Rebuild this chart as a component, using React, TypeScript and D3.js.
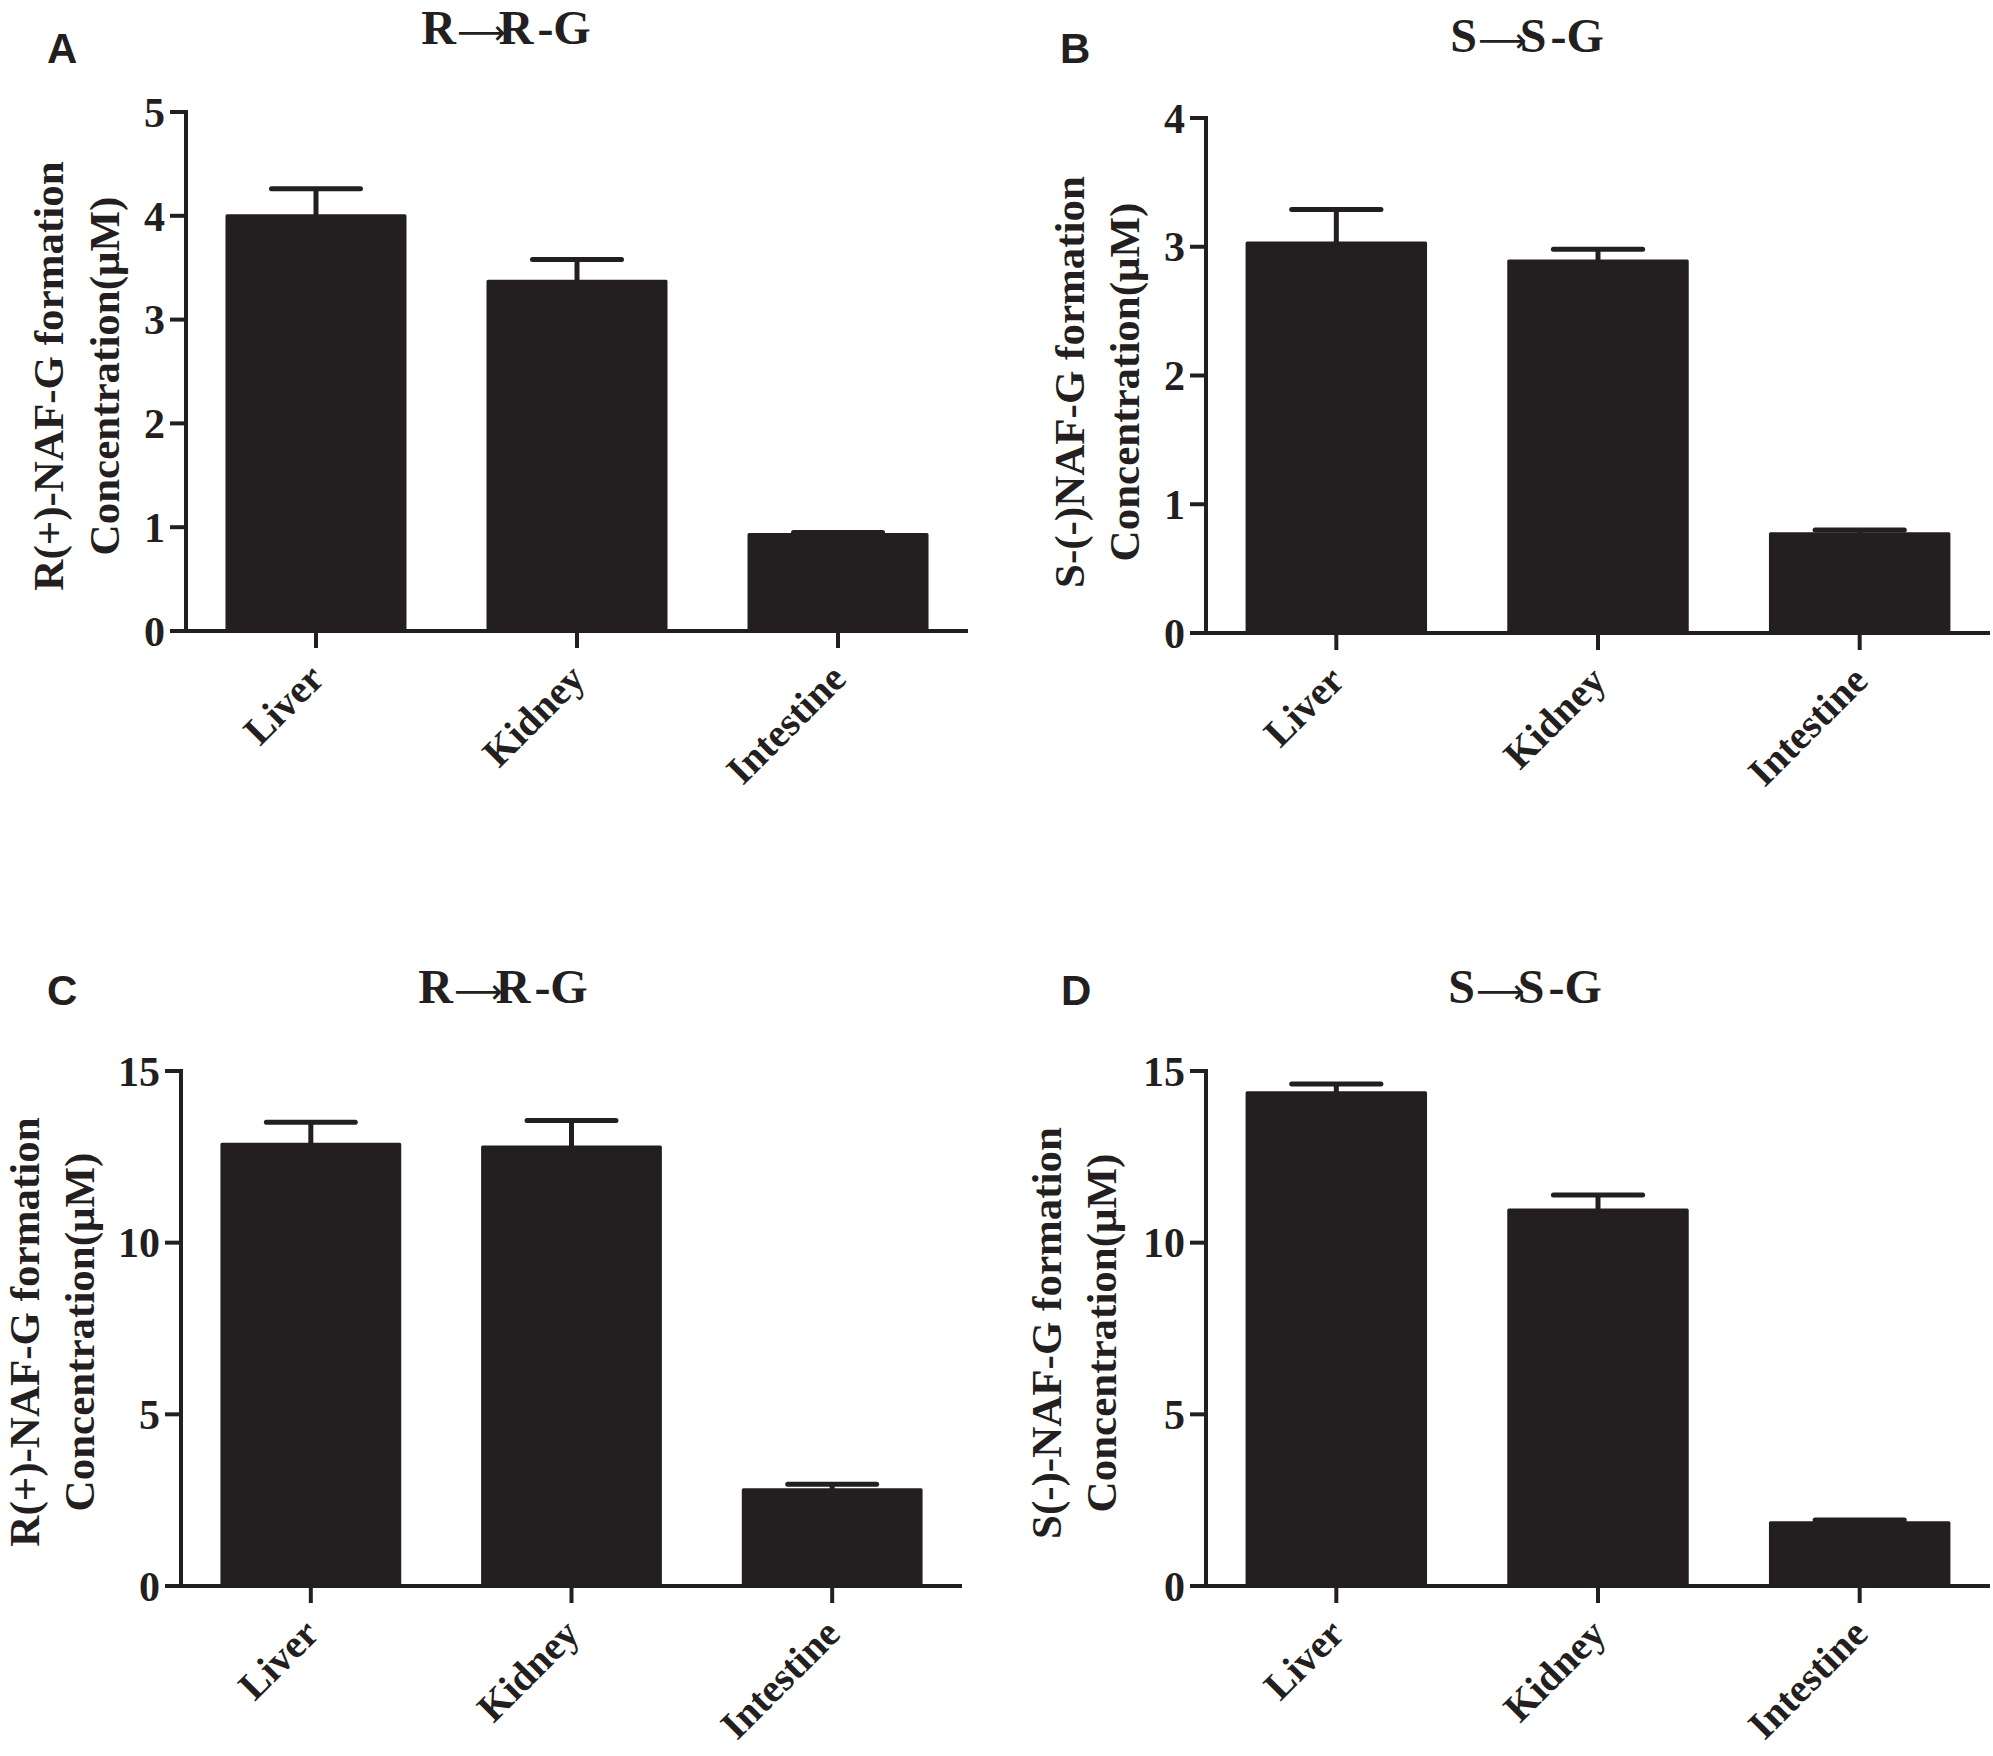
import React from "react";
import * as d3 from "d3";

const categories = ["Liver", "Kidney", "Intestine"];

const meanA = [4.0, 3.37, 0.93];
const errA = [0.26, 0.21, 0.02];
const meanB = [3.03, 2.89, 0.77];
const errB = [0.26, 0.09, 0.03];
const meanC = [12.87, 12.79, 2.8];
const errC = [0.64, 0.77, 0.16];
const meanD = [14.37, 10.95, 1.84];
const errD = [0.25, 0.44, 0.08];

const ticksA = [0, 1, 2, 3, 4, 5];
const ticksB = [0, 1, 2, 3, 4];
const ticksC = [0, 5, 10, 15];
const ticksD = [0, 5, 10, 15];

const titleR = ["R", "R", "-G"];
const titleS = ["S", "S", "-G"];

const yLabelA = ["R(+)-NAF-G formation", "Concentration(μM)"];
const yLabelB = ["S-(-)NAF-G formation", "Concentration(μM)"];
const yLabelC = ["R(+)-NAF-G formation", "Concentration(μM)"];
const yLabelD = ["S(-)-NAF-G formation", "Concentration(μM)"];

const INK = "#231f20";
const SERIF = "'Liberation Serif', 'Times New Roman', serif";
const SANS = "'Liberation Sans', Arial, sans-serif";

type PanelProps = {
  letter: string;
  letterX: number;
  letterY: number;
  title: string[];
  titleX: number;
  titleY: number;
  means: number[];
  errs: number[];
  ticks: number[];
  yMax: number;
  axisX: number;
  axisEnd: number;
  yTop: number;
  yBottom: number;
  yLabel: string[];
  yLabelX: number[];
  yLabelCy: number;
};

function Panel(p: PanelProps) {
  const x = d3
    .scaleBand<string>()
    .domain(categories)
    .range([p.axisX, p.axisEnd])
    .paddingInner(0.318)
    .paddingOuter(0.157);
  const y = d3.scaleLinear().domain([0, p.yMax]).range([p.yBottom, p.yTop]);
  const bw = x.bandwidth();
  return (
    <g>
      <text
        x={p.letterX}
        y={p.letterY}
        fontFamily={SANS}
        fontWeight="bold"
        fontSize={42}
        fill={INK}
      >
        {p.letter}
      </text>
      <text
        x={p.titleX}
        y={p.titleY}
        fontFamily={SERIF}
        fontWeight="bold"
        fontSize={48}
        fill={INK}
        textAnchor="middle"
      >
        <tspan>{p.title[0]}</tspan>
        <tspan fontFamily="'DejaVu Sans', sans-serif" fontWeight="normal" fontSize={34} dx={1}>
          ⟶
        </tspan>
        <tspan dx={-7}>{p.title[1]}</tspan>
        <tspan dx={4}>{p.title[2]}</tspan>
      </text>
      {p.yLabel.map((line, i) => (
        <text
          key={i}
          transform={`translate(${p.yLabelX[i]},${p.yLabelCy}) rotate(-90)`}
          fontFamily={SERIF}
          fontWeight="bold"
          fontSize={43}
          fill={INK}
          textAnchor="middle"
        >
          {line}
        </text>
      ))}
      {categories.map((c, i) => {
        const x0 = x(c) as number;
        const cx = x0 + bw / 2;
        const m = p.means[i];
        const e = p.errs[i];
        return (
          <g key={c}>
            <line x1={cx} x2={cx} y1={y(m)} y2={y(m + e)} stroke={INK} strokeWidth={5} />
            <line
              x1={cx - bw / 4}
              x2={cx + bw / 4}
              y1={y(m + e)}
              y2={y(m + e)}
              stroke={INK}
              strokeWidth={5}
              strokeLinecap="round"
            />
            <rect
              x={x0}
              y={y(m)}
              width={bw}
              height={p.yBottom - y(m)}
              fill={INK}
              stroke={INK}
              strokeWidth={3}
              strokeLinejoin="round"
            />
            <line x1={cx} x2={cx} y1={p.yBottom} y2={p.yBottom + 17} stroke={INK} strokeWidth={4} />
            <text
              transform={`translate(${cx + 10},${p.yBottom + 50}) rotate(-45)`}
              fontFamily={SERIF}
              fontWeight="bold"
              fontSize={40}
              fill={INK}
              textAnchor="end"
            >
              {c}
            </text>
          </g>
        );
      })}
      {p.ticks.map((t) => (
        <g key={t}>
          <line x1={p.axisX - 16} x2={p.axisX} y1={y(t)} y2={y(t)} stroke={INK} strokeWidth={4} />
          <text
            x={p.axisX - 21}
            y={y(t)}
            dy="0.35em"
            fontFamily={SERIF}
            fontWeight="bold"
            fontSize={42}
            fill={INK}
            textAnchor="end"
          >
            {t}
          </text>
        </g>
      ))}
      <line x1={p.axisX} x2={p.axisX} y1={p.yTop - 2} y2={p.yBottom} stroke={INK} strokeWidth={4} />
      <line x1={p.axisX - 2} x2={p.axisEnd} y1={p.yBottom} y2={p.yBottom} stroke={INK} strokeWidth={4} />
    </g>
  );
}

export default function App() {
  return (
    <svg
      width={1993}
      height={1756}
      viewBox="0 0 1993 1756"
      style={{ position: "absolute", left: 0, top: 0, background: "#fff" }}
    >
      <rect x={0} y={0} width={1993} height={1756} fill="#fff" />
      <Panel
        letter="A"
        letterX={47}
        letterY={63}
        title={titleR}
        titleX={506}
        titleY={44}
        means={meanA}
        errs={errA}
        ticks={ticksA}
        yMax={5}
        axisX={186}
        axisEnd={968}
        yTop={112}
        yBottom={631}
        yLabel={yLabelA}
        yLabelX={[63, 119]}
        yLabelCy={376}
      />
      <Panel
        letter="B"
        letterX={1060}
        letterY={63}
        title={titleS}
        titleX={1527}
        titleY={52}
        means={meanB}
        errs={errB}
        ticks={ticksB}
        yMax={4}
        axisX={1206}
        axisEnd={1990}
        yTop={118}
        yBottom={633}
        yLabel={yLabelB}
        yLabelX={[1084, 1139]}
        yLabelCy={382}
      />
      <Panel
        letter="C"
        letterX={47}
        letterY={1005}
        title={titleR}
        titleX={503}
        titleY={1003}
        means={meanC}
        errs={errC}
        ticks={ticksC}
        yMax={15}
        axisX={181}
        axisEnd={962}
        yTop={1071}
        yBottom={1586}
        yLabel={yLabelC}
        yLabelX={[39, 94]}
        yLabelCy={1332}
      />
      <Panel
        letter="D"
        letterX={1061}
        letterY={1005}
        title={titleS}
        titleX={1525}
        titleY={1003}
        means={meanD}
        errs={errD}
        ticks={ticksD}
        yMax={15}
        axisX={1206}
        axisEnd={1990}
        yTop={1071}
        yBottom={1586}
        yLabel={yLabelD}
        yLabelX={[1061, 1116]}
        yLabelCy={1333}
      />
    </svg>
  );
}
